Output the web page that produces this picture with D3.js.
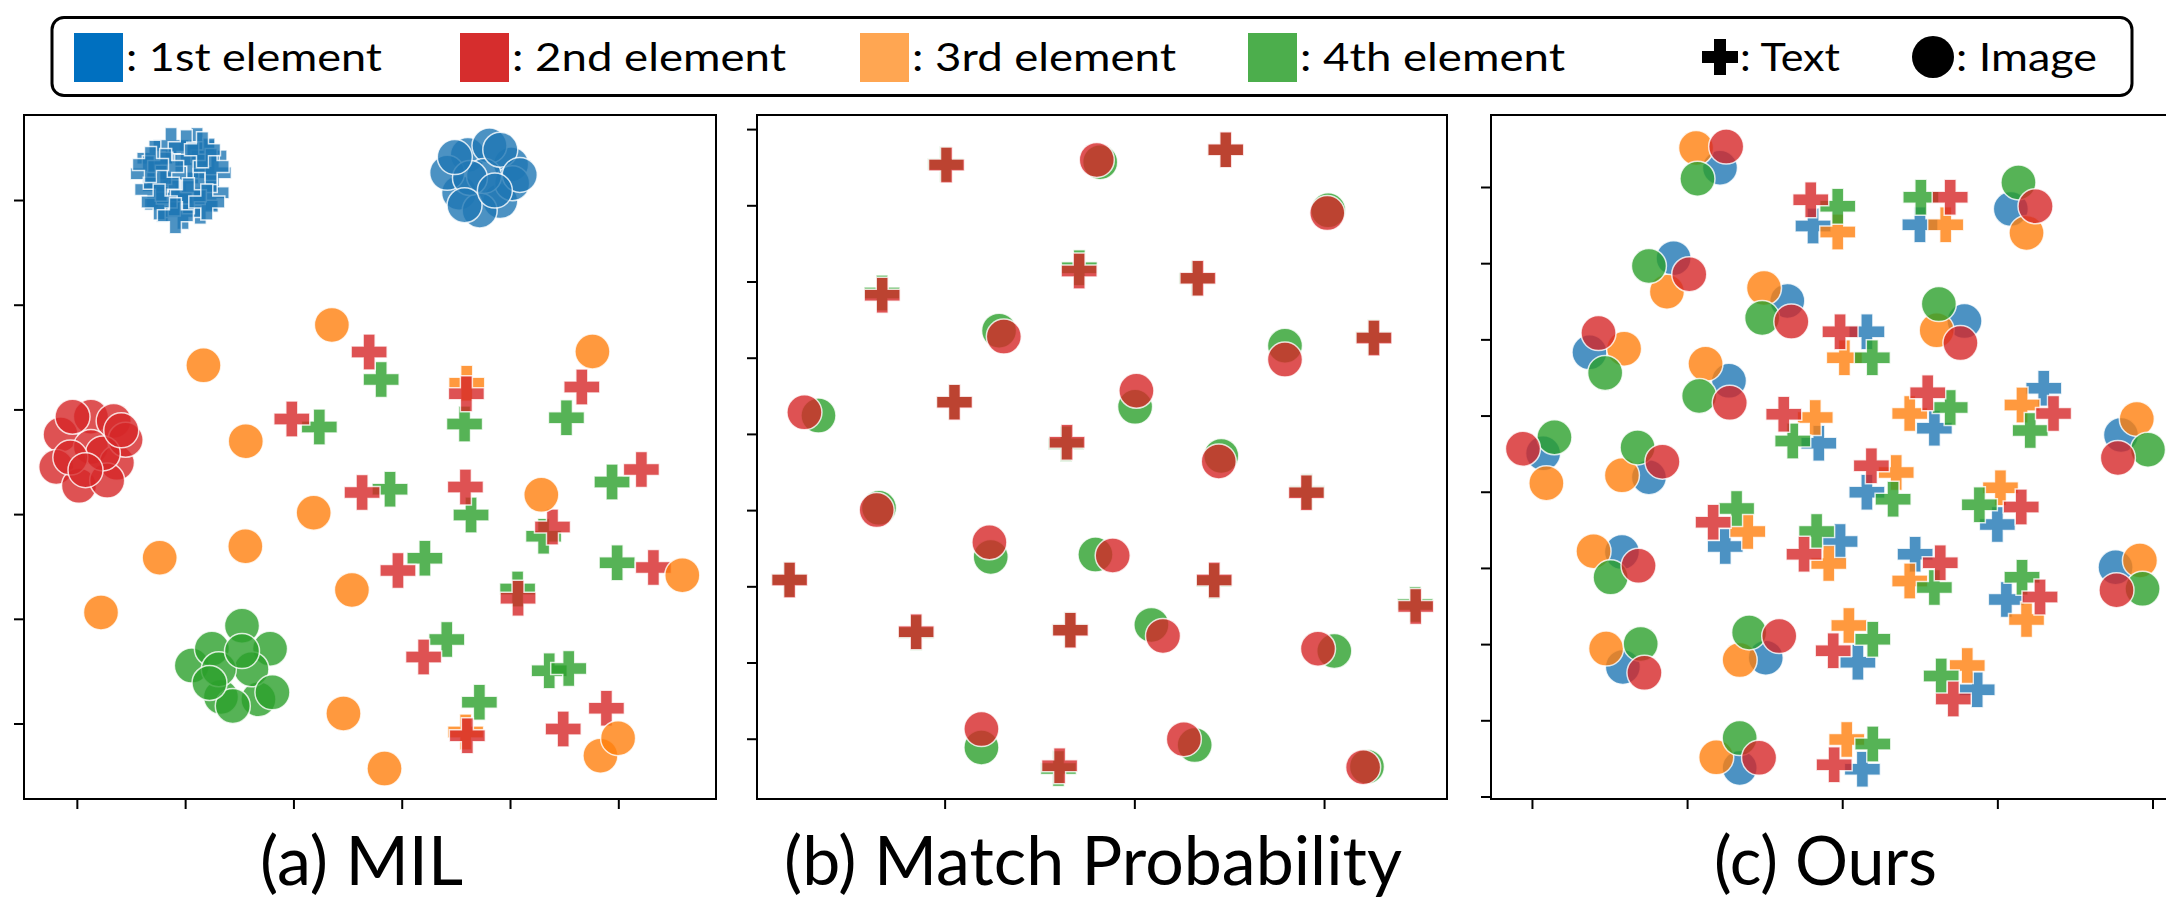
<!DOCTYPE html>
<html>
<head>
<meta charset="utf-8">
<script src="https://cdn.jsdelivr.net/npm/d3@7"></script>
<style>
  body { margin: 0; background: #fff; }
  text { font-family: Lato, "Open Sans", sans-serif; }
</style>
</head>
<body>
<script>
let width = 2166
let height = 899

let elements = ['1st element', '2nd element', '3rd element', '4th element']
let markerColors = ['#1f77b4', '#ff7f0e', '#2ca02c', '#d62728']
let legendColors = ['#0070c0', '#d62d2d', '#ffa652', '#4cae4c']
let modalities = ['Text', 'Image']
let panelTitles = ['(a) MIL', '(b) Match Probability', '(c) Ours']

// tick values (no labels are shown)
let milXTicks = [-20, -10, 0, 10, 20, 30]
let milYTicks = [-20, -10, 0, 10, 20, 30]
let matchXTicks = [0, 10, 20]
let matchYTicks = [-40, -30, -20, -10, 0, 10, 20, 30, 40]
let oursXTicks = [-20, -10, 0, 10, 20]
let oursYTicks = [-40, -30, -20, -10, 0, 10, 20, 30, 40]

// (a) MIL
let milTextBlue = [[-10.4, 32.1], [-8.9, 35.2], [-11.3, 35.2], [-9.9, 35.0], [-7.8, 34.2], [-12.8, 34.0],
  [-7.4, 32.6], [-13.4, 32.5], [-7.6, 30.7], [-13.0, 31.0], [-8.6, 29.4], [-12.1, 29.6], [-10.2, 28.9],
  [-11.0, 30.2], [-9.3, 33.8], [-11.8, 33.2], [-8.7, 31.3], [-12.2, 31.6], [-9.7, 30.4], [-7.6, 33.2],
  [-13.2, 33.4], [-8.4, 34.8], [-12.4, 29.8], [-8.0, 29.8], [-10.9, 28.5]]
let milTextOrange = [[16.0, 12.5], [15.9, -20.8]]
let milTextGreen = [[8.10, 12.85], [2.39, 8.33], [8.92, 2.37], [15.80, 8.60], [16.40, -0.09], [25.21, 9.21],
  [29.42, 3.07], [23.10, -2.11], [12.14, -4.21], [20.70, -7.15], [29.89, -4.65], [14.16, -11.97],
  [17.17, -17.98], [23.62, -14.96], [25.42, -14.74]]
let milTextRed = [[6.99, 15.48], [-0.15, 9.08], [6.34, 2.06], [15.97, 11.49], [15.88, 2.59], [26.63, 12.15],
  [32.13, 4.25], [23.92, -1.23], [9.65, -5.39], [20.74, -8.03], [33.24, -5.09], [12.02, -13.64],
  [16.06, -21.18], [24.91, -20.53], [28.90, -18.55]]
let milImageBlue = [[16.1, 34.3], [20.1, 33.4], [19.1, 29.9], [15.3, 30.7], [17.2, 29.0], [20.2, 31.6],
  [14.2, 32.6], [18.1, 35.2], [17.6, 32.3], [16.3, 32.1], [19.1, 34.8], [14.9, 34.1], [20.9, 32.4],
  [15.8, 29.5], [18.6, 30.9]]
let milImageOrange = [[3.55, 18.07], [-8.31, 14.21], [-4.40, 6.97], [1.87, 0.13], [-4.44, -3.07],
  [-12.35, -4.17], [-17.77, -9.39], [5.40, -7.24], [22.89, 1.84], [27.61, 15.53], [35.91, -5.83],
  [4.62, -19.04], [8.41, -24.30], [28.35, -23.07], [29.98, -21.40]]
let milImageGreen = [[-4.75, -10.66], [-9.38, -14.47], [-7.53, -12.86], [-2.16, -12.86], [-6.69, -17.47],
  [-3.23, -17.68], [-3.88, -14.82], [-6.89, -14.82], [-1.94, -17.02], [-5.60, -18.33], [-4.75, -13.08],
  [-7.75, -16.13]]
let milImageRed = [[-18.7, 9.3], [-16.6, 8.9], [-21.5, 7.6], [-18.7, 6.4], [-16.3, 4.9], [-21.9, 4.5],
  [-19.8, 2.7], [-17.2, 3.2], [-15.5, 7.1], [-20.4, 9.3], [-17.6, 5.8], [-20.6, 5.4], [-15.9, 8.0],
  [-19.2, 4.2]]

// (b) Match Probability
let matchTextGreen = [[0.05, 35.4], [14.8, 37.3], [7.1, 21.8], [13.3, 20.4], [-3.3, 18.5], [22.6, 12.7],
  [0.5, 4.2], [6.4, -1.3], [19.1, -7.6], [-8.2, -19.1], [14.2, -19.3], [24.8, -22.4], [-1.5, -26.1],
  [6.6, -25.7], [6.0, -43.9]]
let matchTextRed = [[0.10, 35.30], [14.82, 37.29], [7.09, 21.39], [13.35, 20.42], [-3.29, 18.19],
  [22.63, 12.59], [0.52, 4.16], [6.45, -1.08], [19.07, -7.71], [-8.17, -19.16], [14.21, -19.16],
  [24.83, -22.65], [-1.50, -25.96], [6.63, -25.78], [6.06, -43.55]]
let matchImageGreen = [[8.20, 35.66], [20.22, 29.34], [2.87, 13.55], [17.94, 11.57], [10.04, 3.55],
  [-6.65, 2.41], [14.58, -2.89], [-3.46, -9.70], [2.43, -16.14], [7.95, -15.84], [10.90, -25.06],
  [20.54, -28.49], [1.94, -41.14], [13.18, -40.84], [22.26, -43.67]]
let matchImageRed = [[8.02, 35.96], [20.17, 28.98], [3.12, 12.77], [17.94, 9.76], [10.11, 5.66],
  [-7.39, 2.83], [14.45, -3.61], [-3.58, -10.0], [2.36, -14.22], [8.86, -15.96], [11.51, -26.51],
  [19.68, -28.19], [1.94, -38.73], [12.61, -40.06], [22.06, -43.73]]

// (c) Ours
let oursTextBlue = [[-1.88, 34.88], [5.01, 35.06], [1.59, 21.01], [-1.51, 6.37], [5.94, 8.35], [12.99, 13.60],
  [1.59, -0.08], [10.00, -4.30], [-7.54, -7.20], [-0.14, -6.53], [4.70, -8.22], [10.58, -14.13],
  [1.01, -22.39], [8.70, -26.00], [1.30, -36.43]]
let oursTextOrange = [[-0.29, 34.09], [6.67, 35.06], [0.14, 17.58], [-1.74, 9.74], [4.35, 10.28],
  [11.59, 11.37], [3.48, 2.51], [10.20, 0.52], [-6.09, -5.21], [-0.87, -9.43], [4.35, -11.72],
  [11.88, -16.78], [0.43, -17.56], [8.06, -22.81], [0.29, -32.51]]
let oursTextGreen = [[-0.29, 37.47], [5.07, 38.67], [1.94, 17.58], [-3.19, 6.67], [6.96, 11.07],
  [12.12, 8.05], [3.28, -0.99], [8.84, -1.71], [-6.81, -2.19], [-1.65, -5.21], [5.94, -12.56],
  [11.59, -11.24], [1.97, -19.37], [6.38, -24.20], [1.97, -33.12]]
let oursTextRed = [[-2.03, 38.31], [6.96, 38.67], [-0.14, 21.01], [-3.77, 10.16], [5.51, 13.00],
  [13.62, 10.28], [1.88, 3.41], [11.54, -2.01], [-8.32, -4.00], [-2.46, -8.22], [6.32, -9.31],
  [12.75, -13.83], [-0.58, -20.88], [7.16, -27.21], [-0.52, -35.83]]
let oursImageBlue = [[-7.88, 42.53], [10.87, 37.11], [-10.87, 30.66], [-3.54, 25.05], [7.88, 22.40],
  [-16.29, 18.30], [-7.30, 14.56], [-19.28, 5.04], [-12.46, 1.90], [17.97, 7.45], [-14.20, -7.92],
  [17.62, -9.91], [-14.14, -22.99], [-4.93, -21.78], [-6.61, -36.25]]
let oursImageOrange = [[-9.42, 45.12], [11.88, 33.97], [-11.30, 26.26], [-5.04, 26.74], [6.09, 21.19],
  [-14.06, 18.78], [-8.81, 16.79], [-19.07, 1.12], [-14.20, 2.15], [18.99, 9.56], [-16.03, -7.80],
  [19.19, -9.01], [-15.22, -20.58], [-6.61, -22.09], [-8.12, -34.86]]
let oursImageGreen = [[-9.33, 41.09], [11.36, 40.60], [-12.46, 29.63], [-5.16, 22.82], [6.23, 24.63],
  [-15.28, 15.59], [-9.22, 12.57], [-18.55, 7.15], [-13.19, 5.82], [19.71, 5.52], [-14.93, -11.24],
  [19.36, -12.74], [-12.99, -19.98], [-6.00, -18.47], [-6.61, -32.33]]
let oursImageRed = [[-7.48, 45.30], [12.46, 37.47], [-9.86, 28.55], [-3.28, 22.34], [7.62, 19.51],
  [-15.71, 20.83], [-7.25, 11.67], [-20.58, 5.64], [-11.59, 3.95], [17.77, 4.44], [-13.13, -9.73],
  [17.68, -12.92], [-12.75, -23.77], [-4.06, -18.95], [-5.36, -34.92]]

let panels = [
  { left: 24, right: 716, xDomain: [-24.88, 39.02], yDomain: [-27.21, 38.12], xTicks: milXTicks, yTicks: milYTicks,
    text: [milTextBlue, milTextOrange, milTextGreen, milTextRed],
    image: [milImageBlue, milImageOrange, milImageGreen, milImageRed],
    titleX: 260, titleW: 203 },
  { left: 757, right: 1447, xDomain: [-9.89, 26.48], yDomain: [-47.91, 41.85], xTicks: matchXTicks, yTicks: matchYTicks,
    text: [[], [], matchTextGreen, matchTextRed],
    image: [[], [], matchImageGreen, matchImageRed],
    titleX: 784, titleW: 618 },
  { left: 1491, right: 2168, xDomain: [-22.64, 21.0], yDomain: [-40.33, 49.45], xTicks: oursXTicks, yTicks: oursYTicks,
    text: [oursTextBlue, oursTextOrange, oursTextGreen, oursTextRed],
    image: [oursImageBlue, oursImageOrange, oursImageGreen, oursImageRed],
    titleX: 1714, titleW: 223 }
]
let plotTop = 115
let plotBottom = 799

let plusSymbol = d3.symbol(d3.symbolCross, 720)
let circleSymbol = d3.symbol(d3.symbolCircle, Math.PI * 17.5 * 17.5)

let svg = d3.select('body').append('svg')
            .attr('width', width)
            .attr('height', height)

// legend
svg.append('rect')
   .attr('x', 52).attr('y', 17.5)
   .attr('width', 2080).attr('height', 78)
   .attr('rx', 12)
   .attr('fill', 'none')
   .attr('stroke', '#000')
   .attr('stroke-width', 3)

let legendSquareX = [74, 460, 860, 1248]
let legendTextW = [256, 274, 264, 265]
elements.forEach((name, i) => {
    svg.append('rect')
       .attr('x', legendSquareX[i]).attr('y', 33)
       .attr('width', 49).attr('height', 49)
       .attr('fill', legendColors[i])
    svg.append('text')
       .attr('x', legendSquareX[i] + 52).attr('y', 71)
       .attr('font-size', 38)
       .attr('textLength', legendTextW[i])
       .attr('lengthAdjust', 'spacingAndGlyphs')
       .text(': ' + name)
})
svg.append('path')
   .attr('transform', 'translate(1720,57)')
   .attr('d', plusSymbol())
   .attr('fill', '#000')
svg.append('text')
   .attr('x', 1740).attr('y', 71)
   .attr('font-size', 38)
   .attr('textLength', 100)
   .attr('lengthAdjust', 'spacingAndGlyphs')
   .text(': ' + modalities[0])
svg.append('circle')
   .attr('cx', 1933).attr('cy', 57).attr('r', 21)
   .attr('fill', '#000')
svg.append('text')
   .attr('x', 1956).attr('y', 71)
   .attr('font-size', 38)
   .attr('textLength', 141)
   .attr('lengthAdjust', 'spacingAndGlyphs')
   .text(': ' + modalities[1])

let drawPanel = (p, idx) => {
    let x = d3.scaleLinear().domain(p.xDomain).range([p.left, p.right])
    let y = d3.scaleLinear().domain(p.yDomain).range([plotBottom, plotTop])
    let g = svg.append('g')

    g.append('clipPath').attr('id', 'clip' + idx)
     .append('rect')
     .attr('x', p.left).attr('y', plotTop)
     .attr('width', p.right - p.left).attr('height', plotBottom - plotTop)

    let plot = g.append('g').attr('clip-path', 'url(#clip' + idx + ')')

    let drawSet = (sets, symbol) => {
        sets.forEach((pts, i) => {
            plot.selectAll(null)
                .data(pts)
                .enter()
                .append('path')
                .attr('transform', (d) => 'translate(' + x(d[0]) + ',' + y(d[1]) + ')')
                .attr('d', symbol())
                .attr('fill', markerColors[i])
                .attr('fill-opacity', 0.8)
                .attr('stroke', '#fff')
                .attr('stroke-opacity', 0.8)
                .attr('stroke-width', 1.5)
        })
    }
    drawSet(p.text, plusSymbol)
    drawSet(p.image, circleSymbol)

    g.append('rect')
     .attr('x', p.left).attr('y', plotTop)
     .attr('width', p.right - p.left).attr('height', plotBottom - plotTop)
     .attr('fill', 'none')
     .attr('stroke', '#000')
     .attr('stroke-width', 2)

    let xAxis = g.append('g')
                 .attr('transform', 'translate(0,' + plotBottom + ')')
                 .call(d3.axisBottom(x).tickValues(p.xTicks).tickSize(10).tickFormat(''))
    let yAxis = g.append('g')
                 .attr('transform', 'translate(' + p.left + ',0)')
                 .call(d3.axisLeft(y).tickValues(p.yTicks).tickSize(10).tickFormat(''))
    xAxis.select('.domain').remove()
    yAxis.select('.domain').remove()
    g.selectAll('.tick line').attr('stroke', '#000').attr('stroke-width', 2)

    svg.append('text')
       .attr('x', p.titleX).attr('y', 885)
       .attr('font-size', 67)
       .attr('textLength', p.titleW)
       .attr('lengthAdjust', 'spacingAndGlyphs')
       .text(panelTitles[idx])
}

panels.forEach(drawPanel)
</script>
</body>
</html>
